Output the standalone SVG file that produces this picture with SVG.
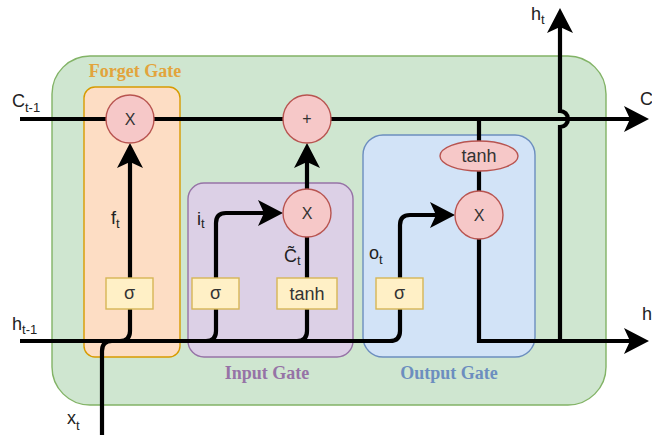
<svg xmlns="http://www.w3.org/2000/svg" width="652" height="437" viewBox="0 0 652 437">
  <style>
    .wire { fill: none; stroke: #000; stroke-width: 4.2; }
    .op { fill: #F6C8C8; stroke: #B85450; stroke-width: 1.4; }
    .act { fill: #FFF0C6; stroke: #D6B656; stroke-width: 1.4; }
    .lbl { font-family: "Liberation Sans", Arial, sans-serif; font-size: 18px; fill: #222; }
    .sub { font-size: 13px; }
    .optext { font-family: "Liberation Sans", Arial, sans-serif; font-size: 16px; fill: #333; text-anchor: middle; }
    .acttext { font-family: "Liberation Sans", Arial, sans-serif; font-size: 18px; fill: #333; text-anchor: middle; }
    .title { font-family: "Liberation Serif", "Times New Roman", serif; font-size: 18px; font-weight: bold; text-anchor: middle; }
  </style>
  <defs>
    <marker id="arrow" markerUnits="userSpaceOnUse" markerWidth="28" markerHeight="28" refX="6" refY="13" orient="auto" overflow="visible">
      <path d="M0,0 L25,13 L0,26 L6,13 Z" fill="#000"/>
    </marker>
  </defs>

  <!-- LSTM cell body -->
  <g id="cell">
    <rect x="52" y="56" width="554" height="349" rx="38" fill="#CFE6D0" stroke="#82B366" stroke-width="1.4"/>
  </g>

  <!-- gate containers -->
  <g id="forget-gate">
    <rect x="84" y="87" width="96" height="270" rx="11" fill="#FDDDC4" stroke="#D79B00" stroke-width="1.4"/>
    <text class="title" x="135" y="77" fill="#E2A43C">Forget Gate</text>
  </g>
  <g id="input-gate">
    <rect x="188" y="183" width="165" height="174" rx="16" fill="#DCD0E6" stroke="#9673A6" stroke-width="1.4"/>
    <text class="title" x="267" y="379" fill="#9673A6">Input Gate</text>
  </g>
  <g id="output-gate">
    <rect x="363" y="135" width="172" height="222" rx="20" fill="#D2E3F7" stroke="#6C8EBF" stroke-width="1.4"/>
    <text class="title" x="449" y="379" fill="#6C8EBF">Output Gate</text>
  </g>

  <!-- connectors -->
  <g id="connectors">
    <!-- cell state -->
    <path class="wire" d="M20 119 H630" marker-end="url(#arrow)"/>
    <!-- input x_t joining the hidden line -->
    <path class="wire" d="M102 435 V351 Q102 341 112 341"/>
    <!-- previous hidden state into the output gate -->
    <path class="wire" d="M20 341 H390 Q400 341 400 331 V225 Q400 215 410 215 H436" marker-end="url(#arrow)"/>
    <!-- forget gate branch -->
    <path class="wire" d="M120 341 Q130 341 130 331 V162" marker-end="url(#arrow)"/>
    <!-- input gate sigma branch -->
    <path class="wire" d="M206 341 Q216 341 216 331 V223 Q216 213 226 213 H264" marker-end="url(#arrow)"/>
    <!-- candidate tanh branch -->
    <path class="wire" d="M297 341 Q307 341 307 331 V237"/>
    <!-- gated candidate into the sum -->
    <path class="wire" d="M307 189 V162" marker-end="url(#arrow)"/>
    <!-- cell state through tanh to output multiply -->
    <path class="wire" d="M479 119 V191"/>
    <!-- output hidden state -->
    <path class="wire" d="M479 239 V341 H630" marker-end="url(#arrow)"/>
    <!-- h_t upward with line jump over the cell state -->
    <path class="wire" d="M560 341 V127 A8 8 0 0 0 560 111 V27" marker-end="url(#arrow)"/>
  </g>

  <!-- pointwise operations -->
  <g id="forget-mul">
    <circle class="op" cx="130" cy="119" r="24"/>
    <text class="optext" x="130" y="125">X</text>
  </g>
  <g id="cell-add">
    <circle class="op" cx="307" cy="119" r="24"/>
    <text class="optext" x="307" y="124" font-size="14">+</text>
  </g>
  <g id="input-mul">
    <circle class="op" cx="307" cy="213" r="24"/>
    <text class="optext" x="307" y="219">X</text>
  </g>
  <g id="output-mul">
    <circle class="op" cx="479" cy="215" r="24"/>
    <text class="optext" x="479" y="221">X</text>
  </g>
  <g id="output-tanh">
    <ellipse class="op" cx="479" cy="156" rx="39" ry="15"/>
    <text class="acttext" x="479" y="162">tanh</text>
  </g>

  <!-- activation layers -->
  <g id="forget-sigma">
    <rect class="act" x="106" y="278" width="47" height="31"/>
    <text class="acttext" x="129.5" y="299">σ</text>
  </g>
  <g id="input-sigma">
    <rect class="act" x="192" y="278" width="47" height="31"/>
    <text class="acttext" x="215.5" y="299">σ</text>
  </g>
  <g id="candidate-tanh">
    <rect class="act" x="277" y="278" width="60" height="31"/>
    <text class="acttext" x="307" y="300">tanh</text>
  </g>
  <g id="output-sigma">
    <rect class="act" x="376" y="278" width="47" height="31"/>
    <text class="acttext" x="399.5" y="299">σ</text>
  </g>

  <!-- signal labels -->
  <g id="labels">
    <text class="lbl" x="12" y="107">C<tspan class="sub" dy="5">t-1</tspan></text>
    <text class="lbl" x="12" y="330">h<tspan class="sub" dy="4">t-1</tspan></text>
    <text class="lbl" x="67" y="424">x<tspan class="sub" dy="6">t</tspan></text>
    <text class="lbl" x="111" y="224">f<tspan class="sub" dy="4">t</tspan></text>
    <text class="lbl" x="197" y="225">i<tspan class="sub" dy="3">t</tspan></text>
    <text class="lbl" x="284" y="262">C̃<tspan class="sub" dy="3">t</tspan></text>
    <text class="lbl" x="369" y="259">o<tspan class="sub" dy="5">t</tspan></text>
    <text class="lbl" x="531" y="20">h<tspan class="sub" dy="4">t</tspan></text>
    <text class="lbl" x="640" y="105">C</text>
    <text class="lbl" x="642" y="320">h</text>
  </g>
</svg>
